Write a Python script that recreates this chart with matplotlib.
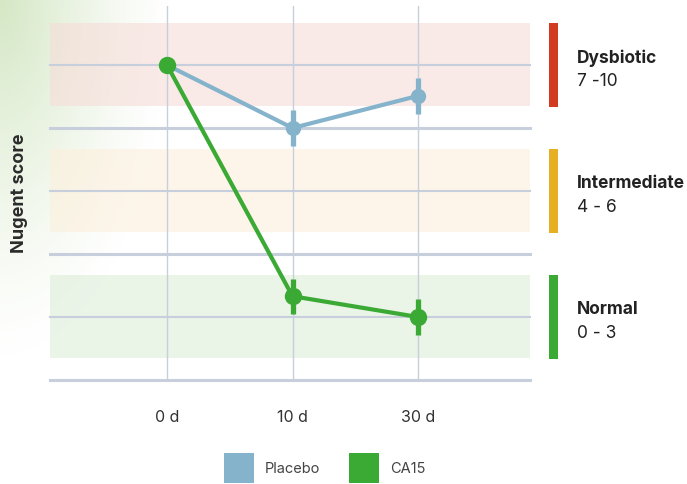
import numpy as np
import matplotlib
matplotlib.use("Agg")
import matplotlib.pyplot as plt
from matplotlib.patches import Rectangle

plt.rcParams['font.family'] = ['Inter', 'DejaVu Sans']

# ---- data ----
days = ["0 d", "10 d", "30 d"]
placebo = [5.0, 4.0, 4.51]
placebo_err = [0.0, 0.28, 0.28]
ca15 = [5.0, 1.33, 1.0]
ca15_err = [0.0, 0.28, 0.28]
band_centers = [5, 3, 1]
band_names = ["Dysbiotic", "Intermediate", "Normal"]
band_ranges = ["7 -10", "4 - 6", "0 - 3"]
series_names = ["Placebo", "CA15"]

# ---- style ----
W, H = 687, 485
c_placebo = "#85b3cc"
c_ca15 = "#3aaa35"
band_fill = ["#f6dcd8", "#fcefdc", "#dcedd8"]
band_bar = ["#d23a22", "#e6b022", "#3aaa35"]
grid_c = "#c6cfdb"

fig = plt.figure(figsize=(W / 100, H / 100), dpi=100)

# background gradient (top-left glow)
bg = fig.add_axes([0, 0, 1, 1], zorder=-10)
yy, xx = np.mgrid[0:H, 0:W]
d = np.sqrt((xx / 170.0) ** 2 + (yy / 360.0) ** 2)
a = np.clip(1 - d, 0, 1) ** 1.3
img = np.zeros((H, W, 4))
img[..., 0] = 212 / 255
img[..., 1] = 231 / 255
img[..., 2] = 196 / 255
img[..., 3] = a
bg.imshow(img, extent=[0, W, H, 0], aspect='auto')
bg.set_xlim(0, W)
bg.set_ylim(H, 0)
bg.axis('off')

x0, x1 = 50, 530
ytop, ybot = 7, 381
ax = fig.add_axes([x0 / W, (H - ybot) / H, (x1 - x0) / W, (ybot - ytop) / H])
ax.patch.set_alpha(0)
ax.set_xlim(-(167 - x0) / 125.5, 2 + (x1 - 418) / 125.5)
ax.set_ylim(0, (ybot - ytop) / 63.0)
xs = np.arange(len(days))

xl = ax.get_xlim()
for c, fc in zip(band_centers, band_fill):
    ax.add_patch(Rectangle((xl[0], c - 0.65), xl[1] - xl[0], 1.317,
                           facecolor=fc, edgecolor='none', alpha=0.6, zorder=0))

for yv in range(0, 6):
    lw = 2.2 if yv % 2 == 0 else 1.5
    ax.axhline(yv, color=grid_c, lw=lw, zorder=1, clip_on=False)
for xv in xs:
    ax.axvline(xv, color=grid_c, lw=1.0, zorder=1)

ax.errorbar(xs, placebo, yerr=placebo_err, color=c_placebo, lw=3, elinewidth=3.8,
            capsize=0, marker='o', ms=10, zorder=3)
ax.errorbar(xs, ca15, yerr=ca15_err, color=c_ca15, lw=3, elinewidth=3.8,
            capsize=0, marker='o', ms=11.5, zorder=4)

for s in ax.spines.values():
    s.set_visible(False)
ax.set_yticks([])
ax.set_xticks(xs)
ax.set_xticklabels(days, fontsize=11.5, color="#333333")
ax.tick_params(axis='x', length=0, pad=21)

fig.text(20 / W, 1 - 193 / H, "Nugent score", rotation=90, ha='center', va='center',
         fontsize=13, fontweight='bold', color="#2b2b2b")

# right-side band legend
tops = [24, 150, 276]
for t, bc, nm, rg in zip(tops, band_bar, band_names, band_ranges):
    fig.add_artist(Rectangle((549 / W, 1 - (t + 84) / H), 9 / W, 84 / H,
                             facecolor=bc, edgecolor='none', transform=fig.transFigure))
    fig.text(577 / W, 1 - (t + 34) / H, nm, fontsize=12.5, fontweight='bold',
             color="#222222", va='center', ha='left')
    fig.text(577 / W, 1 - (t + 57) / H, rg, fontsize=12.5, color="#222222",
             va='center', ha='left')

# bottom legend
for xsq, col, nm in zip([224, 349], [c_placebo, c_ca15], series_names):
    fig.add_artist(Rectangle((xsq / W, 1 - 484 / H), 30 / W, 30 / H,
                             facecolor=col, edgecolor='none', transform=fig.transFigure))
    fig.text((xsq + 41) / W, 1 - 469 / H, nm, fontsize=10.5, color="#444444",
             va='center', ha='left')

fig.savefig("out.png", dpi=100)
